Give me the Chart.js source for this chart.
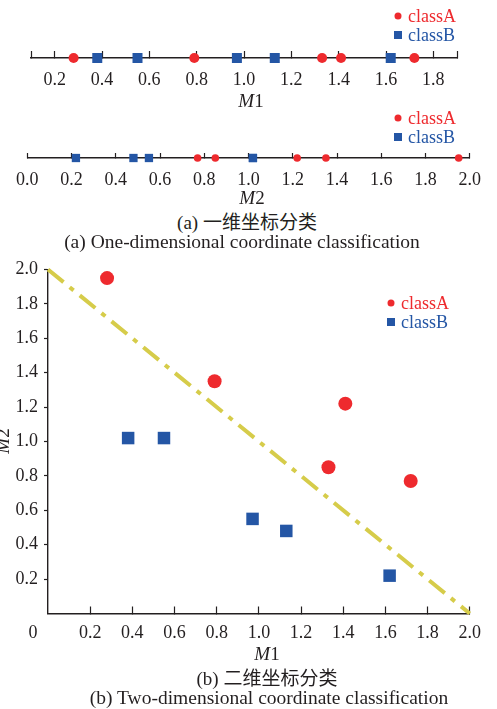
<!DOCTYPE html>
<html>
<head>
<meta charset="utf-8">
<script src="https://cdn.jsdelivr.net/npm/chart.js@4.4.1/dist/chart.umd.min.js"></script>
<style>
    body { margin: 0; background: #fff; }
    #page { position: relative; width: 497px; height: 709px; overflow: hidden;
        font-family: 'Liberation Serif', 'Noto Sans CJK SC', serif; color: #231f20; }
    canvas { position: absolute; left: 0; }
    .txt { position: absolute; white-space: nowrap; line-height: 1; transform: translate(-50%, -50%); }
    .cap { font-size: 19px; }
    .en { font-size: 19.5px; }
    .leg { position: absolute; white-space: nowrap; line-height: 1; font-size: 18px; transform: translateY(-50%); }
    .mk { position: absolute; transform: translate(-50%, -50%); }
</style>
</head>
<body>
<div id="page">
    <canvas id="stripM1" width="497" height="100" style="top:0"></canvas>
    <canvas id="stripM2" width="497" height="100" style="top:100px"></canvas>
    <canvas id="plane" width="497" height="410" style="top:250px"></canvas>

    <div class="txt cap" style="left:251px;top:100px"><i>M</i>1</div>
    <div class="txt cap" style="left:252px;top:197px"><i>M</i>2</div>
    <div class="txt cap" style="left:247px;top:222px">(a) 一维坐标分类</div>
    <div class="txt en" style="left:242px;top:242px">(a) One-dimensional coordinate classification</div>

    <div class="txt cap" style="left:2px;top:441px;transform:translate(-50%,-50%) rotate(-90deg)"><i>M</i>2</div>
    <div class="txt" style="left:33px;top:632px;font-size:18px">0</div>
    <div class="txt cap" style="left:267px;top:653px"><i>M</i>1</div>
    <div class="txt cap" style="left:267px;top:678px">(b) 二维坐标分类</div>
    <div class="txt en" style="left:269px;top:698px">(b) Two-dimensional coordinate classification</div>
</div>
<script>
const classNames = ['classA', 'classB'];
const classColors = ['#ee2a2e', '#2456a5'];

const classA_M1 = [0.28, 0.79, 1.33, 1.41, 1.72];
const classA_M2 = [1.95, 1.35, 0.85, 1.22, 0.77];
const classB_M1 = [0.38, 0.55, 0.97, 1.13, 1.62];
const classB_M2 = [1.02, 1.02, 0.55, 0.48, 0.22];

// decision boundary M1 + M2 = 2
const boundaryM1 = [0, 2];
const boundaryM2 = [2, 0];

const m1StripTicks = [0.2, 0.4, 0.6, 0.8, 1.0, 1.2, 1.4, 1.6, 1.8];
const m2StripTicks = [0, 0.2, 0.4, 0.6, 0.8, 1.0, 1.2, 1.4, 1.6, 1.8, 2.0];
const planeTicks = [0.2, 0.4, 0.6, 0.8, 1.0, 1.2, 1.4, 1.6, 1.8, 2.0];

const AXIS = '#231f20';
const tickFont = { family: "'Liberation Serif', serif", size: 18 };

Chart.defaults.animation = false;
Chart.defaults.events = [];
Chart.defaults.font.family = "'Liberation Serif', serif";
Chart.defaults.plugins.legend.display = false;
Chart.defaults.plugins.tooltip.enabled = false;

function tickList(range, ticks) {
    const all = [range[0], ...ticks, range[1]];
    return all.filter((v, i) => all.indexOf(v) === i).map(v => ({ value: v }));
}

function stripChart(id, valsA, valsB, range, ticks, o) {
    new Chart(document.getElementById(id), {
        type: 'scatter',
        data: {
            datasets: [
                { label: classNames[0], data: valsA.map(v => ({ x: v, y: 0 })), pointStyle: 'circle',
                  pointRadius: o.r, backgroundColor: classColors[0], borderWidth: 0, clip: false },
                { label: classNames[1], data: valsB.map(v => ({ x: v, y: 0 })), pointStyle: 'rect',
                  pointRadius: o.side / Math.SQRT2, backgroundColor: classColors[1], borderWidth: 0, clip: false }
            ]
        },
        options: {
            responsive: false,
            devicePixelRatio: 1,
            layout: { padding: { left: o.left, right: 497 - o.right, top: 30, bottom: 0 } },
            scales: {
                x: {
                    type: 'linear', min: range[0], max: range[1],
                    afterBuildTicks: s => { s.ticks = tickList(range, ticks); },
                    afterFit: s => { s.height = 100 - o.axisY; },
                    border: { color: AXIS, width: 1.4 },
                    grid: { drawOnChartArea: false, tickLength: -o.tick, color: AXIS, tickWidth: 1.2 },
                    ticks: { autoSkip: false, maxRotation: 0, padding: o.pad, font: tickFont, color: AXIS,
                             callback: v => ticks.includes(v) ? v.toFixed(1) : '' }
                },
                y: { display: false, min: 0, max: 1 }
            }
        }
    });
}

function planeChart() {
    new Chart(document.getElementById('plane'), {
        type: 'scatter',
        data: {
            datasets: [
                { label: classNames[0], data: classA_M1.map((v, i) => ({ x: v, y: classA_M2[i] })), pointStyle: 'circle',
                  pointRadius: 7, backgroundColor: classColors[0], borderWidth: 0, clip: false },
                { label: classNames[1], data: classB_M1.map((v, i) => ({ x: v, y: classB_M2[i] })), pointStyle: 'rect',
                  pointRadius: 12.5 / Math.SQRT2, backgroundColor: classColors[1], borderWidth: 0, clip: false },
                { type: 'line', label: 'boundary', data: boundaryM1.map((v, i) => ({ x: v, y: boundaryM2[i] })),
                  borderColor: '#d6cc4a', borderWidth: 4, borderDash: [20, 8, 5, 8], borderCapStyle: 'butt',
                  pointRadius: 0, fill: false, clip: false, order: 1 }
            ]
        },
        options: {
            responsive: false,
            devicePixelRatio: 1,
            layout: { padding: { left: 0, right: 21, top: 19.5, bottom: 0 } },
            scales: {
                x: {
                    type: 'linear', min: 0, max: 2,
                    afterBuildTicks: s => { s.ticks = planeTicks.map(v => ({ value: v })); },
                    afterFit: s => { s.height = 410 - 363.5; },
                    border: { color: AXIS, width: 1.4 },
                    grid: { drawOnChartArea: false, tickLength: -7, color: AXIS, tickWidth: 1.2 },
                    ticks: { autoSkip: false, maxRotation: 0, padding: 16, font: tickFont, color: AXIS,
                             callback: v => v.toFixed(1) }
                },
                y: {
                    type: 'linear', min: 0, max: 2,
                    afterBuildTicks: s => { s.ticks = planeTicks.map(v => ({ value: v })); },
                    afterFit: s => { s.width = 48; },
                    border: { color: AXIS, width: 1.4 },
                    grid: { drawOnChartArea: false, tickLength: 4, color: AXIS, tickWidth: 1.2 },
                    ticks: { autoSkip: false, padding: 6, font: tickFont, color: AXIS,
                             callback: v => v.toFixed(1) }
                }
            }
        }
    });
}

function drawLegends() {
    const legendSpots = [
        { x: 398, y: 16, gap: 19, textX: 408 },
        { x: 398, y: 118, gap: 19, textX: 408 },
        { x: 390.5, y: 303, gap: 19, textX: 401 }
    ];
    const page = document.getElementById('page');
    legendSpots.forEach(spot => {
        classNames.forEach((name, i) => {
            const y = spot.y + i * spot.gap;
            const size = i === 0 ? 7 : 8;
            const mk = document.createElement('div');
            mk.className = 'mk';
            mk.style.cssText += `left:${spot.x}px;top:${y}px;width:${size}px;height:${size}px;background:${classColors[i]};` +
                (i === 0 ? 'border-radius:50%;' : '');
            page.appendChild(mk);
            const t = document.createElement('div');
            t.className = 'leg';
            t.style.cssText += `left:${spot.textX}px;top:${y}px;color:${classColors[i]};`;
            t.textContent = name;
            page.appendChild(t);
        });
    });
}

function drawAll() {
    stripChart('stripM1', classA_M1, classB_M1, [0.1, 1.9], m1StripTicks,
        { left: 31, right: 457, axisY: 58, tick: 7, pad: 18, r: 5, side: 10 });
    stripChart('stripM2', classA_M2, classB_M2, [0, 2], m2StripTicks,
        { left: 27, right: 477, axisY: 58, tick: 5, pad: 16, r: 3.8, side: 8.3 });
    planeChart();
    drawLegends();
}

document.fonts.load("18px 'Liberation Serif'").then(drawAll, drawAll);
</script>
</body>
</html>
